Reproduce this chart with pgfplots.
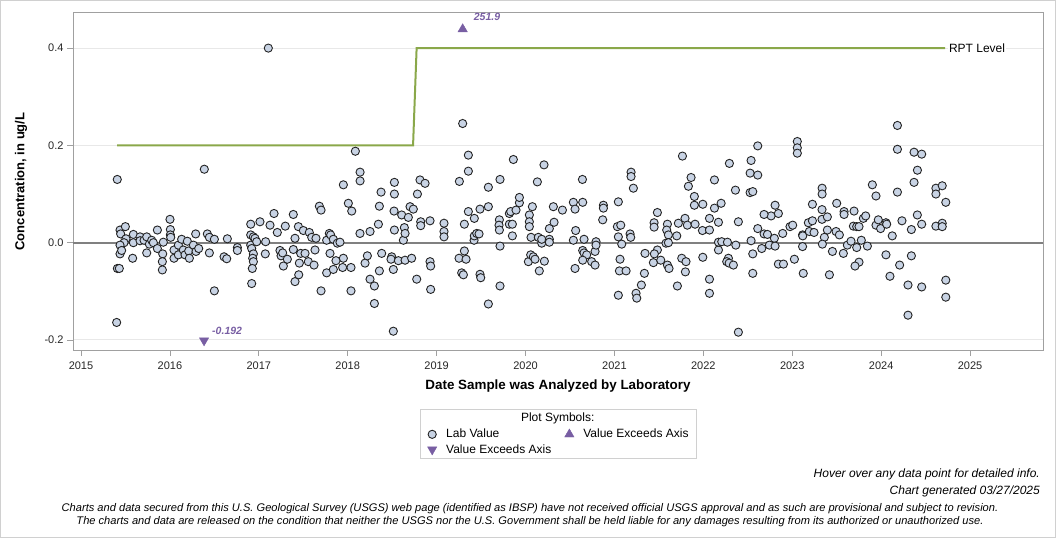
\documentclass[border=0pt]{standalone}
\usepackage{pgfplots}
\pgfplotsset{compat=1.18}
\usepackage{pgfplotstable}
\usepackage{fontspec}
\setmainfont{Liberation Sans}

\definecolor{framegray}{RGB}{208,208,208}
\definecolor{axisgray}{RGB}{160,160,160}
\definecolor{gridgray}{RGB}{232,232,232}
\definecolor{zerogray}{RGB}{128,128,128}
\definecolor{rptgreen}{RGB}{138,168,74}
\definecolor{labfill}{RGB}{200,211,228}
\definecolor{labedge}{RGB}{35,35,35}
\definecolor{exceedpurple}{RGB}{120,94,163}

% Laboratory results: decimal year of analysis, concentration (ug/L)
\pgfplotstableread{
date conc
2015.408 0.130
2015.401 -0.164
2015.409 -0.053
2015.431 -0.053
2015.439 0.026
2015.446 0.018
2015.499 0.033
2015.506 0.008
2015.484 0.000
2015.439 -0.005
2015.439 -0.023
2015.457 -0.016
2015.581 -0.032
2015.589 0.017
2015.589 0.000
2015.664 0.012
2015.664 0.004
2015.709 0.005
2015.739 0.012
2015.739 -0.021
2015.769 -0.003
2015.795 0.005
2015.814 0.000
2015.859 0.026
2015.859 -0.012
2015.919 -0.023
2015.915 -0.039
2015.915 -0.056
2015.926 0.001
2016.001 0.048
2016.005 0.027
2016.005 0.016
2016.009 0.011
2016.046 -0.015
2016.046 -0.032
2016.095 -0.025
2016.095 -0.005
2016.132 0.007
2016.151 -0.015
2016.170 -0.025
2016.196 0.003
2016.211 -0.017
2016.219 -0.032
2016.264 -0.005
2016.290 0.018
2016.294 -0.018
2016.324 -0.012
2016.387 0.151
2016.421 0.018
2016.444 0.011
2016.444 -0.021
2016.500 0.007
2016.500 -0.099
2016.609 -0.029
2016.639 -0.033
2016.646 0.008
2016.759 -0.010
2016.759 -0.016
2016.909 0.038
2016.920 -0.084
2016.909 0.016
2016.939 0.012
2016.957 0.009
2016.909 -0.005
2016.920 -0.012
2016.939 -0.023
2016.931 -0.032
2016.939 -0.039
2016.927 -0.053
2016.976 0.002
2017.013 0.043
2017.077 0.002
2017.073 -0.023
2017.107 0.400
2017.126 0.036
2017.171 0.060
2017.208 0.021
2017.238 -0.016
2017.250 -0.027
2017.268 -0.021
2017.276 -0.048
2017.298 0.034
2017.321 -0.034
2017.388 0.058
2017.407 0.009
2017.388 -0.014
2017.407 -0.080
2017.445 0.033
2017.456 -0.042
2017.449 -0.066
2017.471 -0.022
2017.501 0.025
2017.520 -0.022
2017.568 0.021
2017.595 0.011
2017.643 0.009
2017.632 -0.015
2017.557 -0.039
2017.621 -0.046
2017.681 0.075
2017.700 0.067
2017.700 -0.099
2017.763 -0.062
2017.763 0.005
2017.793 0.019
2017.808 0.016
2017.801 -0.022
2017.838 0.007
2017.838 -0.055
2017.868 -0.037
2017.883 -0.001
2017.913 0.001
2017.951 -0.032
2017.943 -0.051
2017.951 0.119
2018.007 0.081
2018.045 0.065
2018.037 -0.051
2018.037 -0.099
2018.086 0.188
2018.139 0.145
2018.139 0.127
2018.138 0.019
2018.195 -0.042
2018.221 -0.027
2018.251 0.023
2018.251 -0.075
2018.300 -0.089
2018.300 -0.125
2018.356 0.075
2018.345 0.038
2018.356 -0.058
2018.375 0.104
2018.382 -0.022
2018.495 -0.029
2018.487 -0.034
2018.513 -0.055
2018.513 -0.182
2018.521 0.065
2018.525 0.026
2018.525 0.124
2018.525 0.100
2018.570 -0.037
2018.607 0.057
2018.626 0.005
2018.637 0.031
2018.645 0.019
2018.645 -0.036
2018.701 0.074
2018.682 0.052
2018.738 0.069
2018.719 -0.032
2018.776 -0.075
2018.784 0.100
2018.813 0.129
2018.821 0.043
2018.821 0.035
2018.870 0.122
2018.926 0.045
2018.926 -0.039
2018.933 -0.048
2018.933 -0.096
2019.083 0.040
2019.083 0.023
2019.083 0.012
2019.252 -0.032
2019.256 0.126
2019.282 -0.062
2019.293 0.245
2019.301 -0.066
2019.312 -0.017
2019.331 -0.034
2019.312 0.038
2019.357 0.064
2019.357 0.147
2019.357 0.180
2019.424 0.050
2019.421 0.005
2019.424 0.014
2019.451 0.019
2019.477 0.018
2019.488 0.069
2019.488 -0.065
2019.496 -0.072
2019.582 0.074
2019.582 0.114
2019.582 -0.126
2019.706 0.047
2019.702 0.036
2019.706 0.026
2019.713 -0.007
2019.713 -0.089
2019.713 0.130
2019.818 0.038
2019.818 0.060
2019.833 0.064
2019.852 0.038
2019.852 0.014
2019.863 0.171
2019.893 0.067
2019.931 0.082
2019.931 0.093
2020.032 -0.039
2020.043 0.057
2020.043 0.043
2020.043 0.033
2020.062 0.011
2020.077 0.074
2020.058 -0.025
2020.088 -0.029
2020.107 -0.034
2020.133 0.125
2020.155 -0.058
2020.144 0.011
2020.182 -0.001
2020.182 0.007
2020.208 0.160
2020.212 -0.038
2020.268 0.029
2020.268 0.007
2020.268 0.001
2020.313 0.074
2020.321 0.042
2020.415 0.067
2020.538 0.083
2020.557 0.069
2020.564 0.025
2020.538 0.005
2020.557 -0.053
2020.640 0.130
2020.643 0.083
2020.658 0.007
2020.643 -0.016
2020.658 -0.021
2020.688 -0.025
2020.643 -0.036
2020.744 -0.039
2020.782 -0.046
2020.782 -0.018
2020.793 0.002
2020.793 -0.005
2020.868 0.047
2020.876 0.077
2020.876 0.071
2021.044 0.084
2021.033 0.033
2021.071 0.036
2021.044 0.012
2021.082 -0.003
2021.063 -0.034
2021.056 -0.058
2021.131 -0.058
2021.044 -0.108
2021.176 0.018
2021.183 0.011
2021.187 0.145
2021.187 0.136
2021.213 0.112
2021.303 -0.087
2021.243 -0.104
2021.251 -0.114
2021.344 -0.022
2021.337 -0.063
2021.446 0.041
2021.446 0.032
2021.483 0.062
2021.483 -0.015
2021.449 -0.023
2021.438 -0.041
2021.521 -0.036
2021.596 0.038
2021.588 0.026
2021.607 0.016
2021.596 -0.046
2021.614 -0.053
2021.580 -0.001
2021.607 0.000
2021.701 0.014
2021.708 -0.089
2021.719 0.040
2021.757 -0.032
2021.765 0.178
2021.794 0.050
2021.805 -0.039
2021.798 -0.060
2021.820 0.036
2021.832 0.116
2021.862 0.134
2021.899 0.095
2021.899 0.077
2021.907 0.038
2021.994 0.079
2021.990 0.025
2021.994 -0.030
2022.069 0.050
2022.069 0.026
2022.069 -0.075
2022.069 -0.104
2022.125 0.071
2022.125 0.129
2022.170 0.042
2022.170 -0.015
2022.200 0.081
2022.170 0.001
2022.207 0.002
2022.271 0.001
2022.282 -0.032
2022.263 -0.039
2022.290 -0.042
2022.293 0.163
2022.338 -0.046
2022.361 0.108
2022.365 -0.005
2022.394 0.043
2022.394 -0.184
2022.526 0.103
2022.526 0.143
2022.537 0.169
2022.556 0.105
2022.537 0.004
2022.556 -0.023
2022.556 -0.063
2022.612 0.029
2022.612 0.139
2022.612 0.199
2022.657 -0.012
2022.683 0.018
2022.721 0.017
2022.743 -0.005
2022.762 0.055
2022.799 0.009
2022.807 -0.007
2022.683 0.058
2022.807 0.077
2022.844 0.060
2022.844 -0.044
2022.901 -0.044
2022.893 0.019
2022.975 0.033
2023.005 0.036
2023.024 -0.034
2023.057 0.208
2023.057 0.195
2023.057 0.184
2023.116 0.016
2023.116 -0.008
2023.124 -0.063
2023.118 0.014
2023.181 0.041
2023.192 0.023
2023.227 0.045
2023.227 0.079
2023.245 0.021
2023.335 0.068
2023.335 0.048
2023.336 0.112
2023.336 0.100
2023.395 0.053
2023.395 0.026
2023.361 0.011
2023.339 -0.003
2023.452 -0.018
2023.418 -0.066
2023.500 0.081
2023.493 0.023
2023.530 0.016
2023.583 0.064
2023.583 0.058
2023.575 -0.022
2023.620 -0.005
2023.661 0.003
2023.695 0.065
2023.688 0.034
2023.725 0.033
2023.725 -0.010
2023.751 -0.040
2023.706 -0.048
2023.751 0.033
2023.777 0.005
2023.800 0.050
2023.826 0.055
2023.845 -0.007
2023.901 0.119
2023.942 0.096
2023.942 0.036
2023.968 0.047
2023.994 0.029
2024.054 0.041
2024.062 0.038
2024.054 -0.025
2024.099 -0.069
2024.125 0.014
2024.183 0.241
2024.183 0.192
2024.183 0.104
2024.208 -0.046
2024.234 0.045
2024.302 -0.087
2024.302 -0.149
2024.340 0.027
2024.340 -0.027
2024.370 0.186
2024.370 0.124
2024.408 0.149
2024.407 0.057
2024.456 0.182
2024.456 0.038
2024.456 -0.091
2024.616 0.112
2024.616 0.100
2024.616 0.034
2024.687 0.117
2024.687 0.040
2024.687 0.033
2024.727 0.083
2024.727 -0.077
2024.727 -0.112
}\labvalues

% Results beyond the plotted range, with their reported values
\pgfplotstableread{
date conc label
2019.293 251.9 251.9
}\exceedhigh
\pgfplotstableread{
date conc label
2016.384 -0.192 -0.192
}\exceedlow

% Reporting level over time
\pgfplotstableread{
date level
2015.405 0.2
2018.735 0.2
2018.775 0.4
2024.719 0.4
}\rptlevel

\begin{document}
\begin{tikzpicture}
\useasboundingbox (0,0) rectangle (1056pt,538pt);
\draw[framegray, line width=1pt] (0.5pt,0.5pt) rectangle (1055.5pt,537.5pt);

\begin{axis}[
  at={(73pt,188pt)}, anchor=south west,
  scale only axis, width=970.3pt, height=337.5pt,
  xmin=2014.91, xmax=2025.824,
  ymin=-0.2206, ymax=0.4732,
  axis line style={draw=axisgray, line width=0.8pt},
  tick pos=left, tick align=outside, major tick length=6pt,
  tick style={draw=axisgray, line width=0.8pt},
  xtick={2015,2016,2017,2018,2019,2020,2021,2022,2023,2024,2025},
  xticklabels={2015,2016,2017,2018,2019,2020,2021,2022,2023,2024,2025},
  ytick={-0.2,0,0.2,0.4},
  yticklabels={-0.2,0.0,0.2,0.4},
  ymajorgrids,
  grid style={draw=gridgray, line width=1pt},
  ticklabel style={font=\fontsize{11}{13}\selectfont, text=black!85},
  xticklabel style={yshift=-2.5pt},
  legend columns=2,
  legend cell align=left,
  legend image code/.code={
    \path[draw=none, fill=none] (0pt,-5pt) rectangle (19pt,5pt);
    \draw[#1] plot coordinates {(6pt,0pt)};
  },
  legend style={at={(axis description cs:0.3638,-0.2312)}, anchor=north west,
    draw=none, fill=none, inner sep=0pt, row sep=3pt,
    nodes={inner sep=1pt},
    font=\fontsize{12}{14}\selectfont,
    /tikz/every even column/.append style={column sep=11pt}},
]
% zero reference line
\addplot[zerogray, line width=2pt, forget plot] coordinates {(2014.91,0) (2025.824,0)};
% reporting level
\addplot[rptgreen, line width=2pt, forget plot] table[x=date, y=level]{\rptlevel}
  node[pos=1, anchor=west, fill=white, inner xsep=1pt, inner ysep=1pt, xshift=2pt, text=black,
       font=\fontsize{12}{14}\selectfont] {RPT Level};

\addplot[only marks, mark=*, mark size=4.1pt,
  mark options={fill=labfill, draw=labedge, line width=0.9pt}]
  table[x=date, y=conc]{\labvalues};
\addlegendentry{Lab Value}

\addplot[only marks, mark=triangle*, mark size=5.4pt, color=exceedpurple,
  y filter/.expression={min(y,0.439)},
  point meta=explicit symbolic, nodes near coords,
  nodes near coords style={anchor=west, inner sep=0pt, xshift=11pt, yshift=12.5pt,
    font=\fontsize{10.5}{12}\selectfont\bfseries\itshape, text=exceedpurple}]
  table[x=date, y=conc, meta=label]{\exceedhigh};
\addlegendentry{Value Exceeds Axis}

\addplot[only marks, mark=triangle*, mark size=5.4pt, color=exceedpurple,
  mark options={rotate=180},
  y filter/.expression={min(y,-0.201)},
  point meta=explicit symbolic, nodes near coords,
  nodes near coords style={anchor=west, inner sep=0pt, xshift=8pt, yshift=10pt,
    font=\fontsize{10.5}{12}\selectfont\bfseries\itshape, text=exceedpurple}]
  table[x=date, y=conc, meta=label]{\exceedlow};
\addlegendentry{Value Exceeds Axis}
\end{axis}

% axis titles
\node[rotate=90, font=\fontsize{13}{15}\selectfont\bfseries] at (21pt,356.5pt) {Concentration, in ug/L};
\node[font=\fontsize{13.4}{15}\selectfont\bfseries] at (558pt,152pt) {Date Sample was Analyzed by Laboratory};

% legend frame and title
\draw[framegray, line width=1pt] (420.7pt,128.7pt) rectangle (696pt,79.3pt);
\node[font=\fontsize{12}{14}\selectfont] at (557.7pt,119.5pt) {Plot Symbols:};

% notes
\node[anchor=east, inner sep=0pt, font=\fontsize{12}{14}\selectfont\itshape] at (1040pt,63.5pt) {Hover over any data point for detailed info.};
\node[anchor=east, inner sep=0pt, font=\fontsize{12}{14}\selectfont\itshape] at (1040pt,47pt) {Chart generated 03/27/2025};
\node[font=\fontsize{11.1}{13}\selectfont\itshape] at (530pt,29.5pt) {Charts and data secured from this U.S. Geological Survey (USGS) web page (identified as IBSP) have not received official USGS approval and as such are provisional and subject to revision.};
\node[font=\fontsize{11.1}{13}\selectfont\itshape] at (530pt,16.5pt) {The charts and data are released on the condition that neither the USGS nor the U.S. Government shall be held liable for any damages resulting from its authorized or unauthorized use.};
\end{tikzpicture}
\end{document}
